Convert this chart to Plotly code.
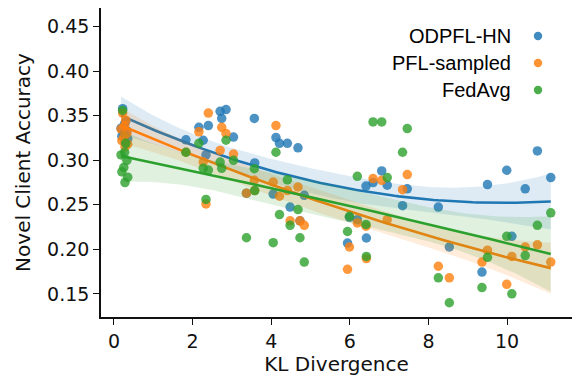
import numpy as np
import plotly.graph_objects as go

# ---- data ----
kl = [0.22, 0.30, 0.27, 0.18, 0.33, 0.25, 0.20, 0.35, 0.28,
      1.83, 2.16, 2.27, 2.34, 2.40, 2.70, 2.74, 2.85, 3.04, 3.37,
      3.57, 3.58, 4.05, 4.12, 4.21, 4.41, 4.48, 4.68, 4.73, 4.84,
      5.94, 5.99, 6.19, 6.41, 6.42, 6.59, 6.81, 6.95, 7.34, 7.46,
      8.25, 8.53, 9.36, 9.50, 9.99, 10.12, 10.46, 10.77, 11.11]

odpfl_hn = [0.358, 0.344, 0.341, 0.336, 0.333, 0.330, 0.327, 0.324, 0.320,
            0.323, 0.337, 0.3225, 0.306, 0.339, 0.355, 0.347, 0.357, 0.326, 0.263,
            0.347, 0.297, 0.262, 0.3255, 0.319, 0.319, 0.2475, 0.314, 0.232, 0.2607,
            0.207, 0.236, 0.2333, 0.271, 0.2127, 0.275, 0.288, 0.272, 0.249, 0.268,
            0.2475, 0.2026, 0.1745, 0.2727, 0.2888, 0.2146, 0.268, 0.3105, 0.2806]

pfl_sampled = [0.353, 0.345, 0.339, 0.335, 0.330, 0.326, 0.322, 0.318, 0.315,
               0.309, 0.332, 0.298, 0.251, 0.353, 0.311, 0.337, 0.330, 0.307, 0.263,
               0.2775, 0.266, 0.2756, 0.339, 0.2596, 0.266, 0.232, 0.270, 0.232, 0.227,
               0.1775, 0.2026, 0.2296, 0.226, 0.1896, 0.2794, 0.2775, 0.2333, 0.267, 0.284,
               0.181, 0.168, 0.1857, 0.199, 0.1607, 0.192, 0.2026, 0.205, 0.1857]

fedavg = [0.356, 0.319, 0.309, 0.306, 0.300, 0.292, 0.287, 0.281, 0.275,
          0.309, 0.319, 0.291, 0.256, 0.289, 0.298, 0.291, 0.3225, 0.300, 0.213,
          0.2906, 0.266, 0.2075, 0.309, 0.239, 0.278, 0.227, 0.2446, 0.213, 0.1857,
          0.220, 0.237, 0.282, 0.228, 0.192, 0.343, 0.343, 0.2806, 0.309, 0.3356,
          0.168, 0.140, 0.157, 0.191, 0.2146, 0.150, 0.193, 0.227, 0.241]

series_names = ["ODPFL-HN", "PFL-sampled", "FedAvg"]
series_values = [odpfl_hn, pfl_sampled, fedavg]
colors = ["#1f77b4", "#ff7f0e", "#2ca02c"]
fills = ["rgba(31,119,180,0.15)", "rgba(255,127,14,0.15)", "rgba(44,160,44,0.15)"]

x_ticks = [0, 2, 4, 6, 8, 10]
y_ticks = [0.15, 0.20, 0.25, 0.30, 0.35, 0.40, 0.45]


def poly_fit_ci(x, y, order=2, n=100):
    x = np.asarray(x, float)
    y = np.asarray(y, float)
    X = np.vander(x, order + 1)
    beta, *_ = np.linalg.lstsq(X, y, rcond=None)
    resid = y - X @ beta
    dof = len(x) - (order + 1)
    s2 = resid @ resid / dof
    cov = s2 * np.linalg.inv(X.T @ X)
    grid = np.linspace(x.min(), x.max(), n)
    G = np.vander(grid, order + 1)
    yhat = G @ beta
    se = np.sqrt(np.einsum("ij,jk,ik->i", G, cov, G))
    t = 2.01
    return grid, yhat, yhat - t * se, yhat + t * se


fig = go.Figure()
for name, vals, c, f in zip(series_names, series_values, colors, fills):
    fig.add_trace(go.Scatter(x=kl, y=vals, mode="markers", name=name,
                             marker=dict(size=9.5, color=c, opacity=0.8, line=dict(width=0)),
                             showlegend=False, hoverinfo="skip"))
    gx, gy, lo, hi = poly_fit_ci(kl, vals)
    fig.add_trace(go.Scatter(x=np.concatenate([gx, gx[::-1]]), y=np.concatenate([hi, lo[::-1]]),
                             fill="toself", fillcolor=f, line=dict(width=0), mode="lines",
                             showlegend=False, hoverinfo="skip"))
    fig.add_trace(go.Scatter(x=gx, y=gy, mode="lines", line=dict(color=c, width=2.6),
                             showlegend=False, hoverinfo="skip"))

# manual legend (text left of marker, as in the reference)
L, T, W, H = 101, 8, 471, 309
for i, (name, c) in enumerate(zip(series_names, colors)):
    cy = 36 + 27 * i
    fig.add_annotation(xref="paper", yref="paper", x=(513 - L) / W, y=1 - (cy - T) / H,
                       text=name, showarrow=False, xanchor="right", yanchor="middle",
                       font=dict(family="Liberation Sans, Arial", size=20, color="#000"))
    r = 4.2
    fig.add_shape(type="circle", xref="paper", yref="paper",
                  x0=(538 - r - L) / W, x1=(538 + r - L) / W,
                  y0=1 - (cy + r - T) / H, y1=1 - (cy - r - T) / H,
                  fillcolor=c, opacity=0.85, line=dict(width=0))

axis_common = dict(showline=True, linecolor="#111", linewidth=1.6, ticks="outside",
                   ticklen=6, tickwidth=1.4, tickcolor="#111", showgrid=False, zeroline=False,
                   tickfont=dict(family="DejaVu Sans", size=19, color="#111"))

fig.update_layout(
    width=577, height=381,
    margin=dict(l=L, r=577 - L - W, t=T, b=381 - T - H),
    paper_bgcolor="white", plot_bgcolor="white",
    showlegend=False,
    xaxis=dict(range=[-0.33, 11.65], tickvals=x_ticks, ticktext=[str(v) for v in x_ticks],
               title=dict(text="KL Divergence", standoff=6,
                          font=dict(family="DejaVu Sans", size=20, color="#111")),
               **axis_common),
    yaxis=dict(range=[0.124, 0.471], tickvals=y_ticks, ticktext=[f"{v:.2f}" for v in y_ticks],
               title=dict(text="Novel Client Accuracy", standoff=11,
                          font=dict(family="DejaVu Sans", size=20, color="#111")),
               **axis_common),
)

fig.write_html("out.html")
